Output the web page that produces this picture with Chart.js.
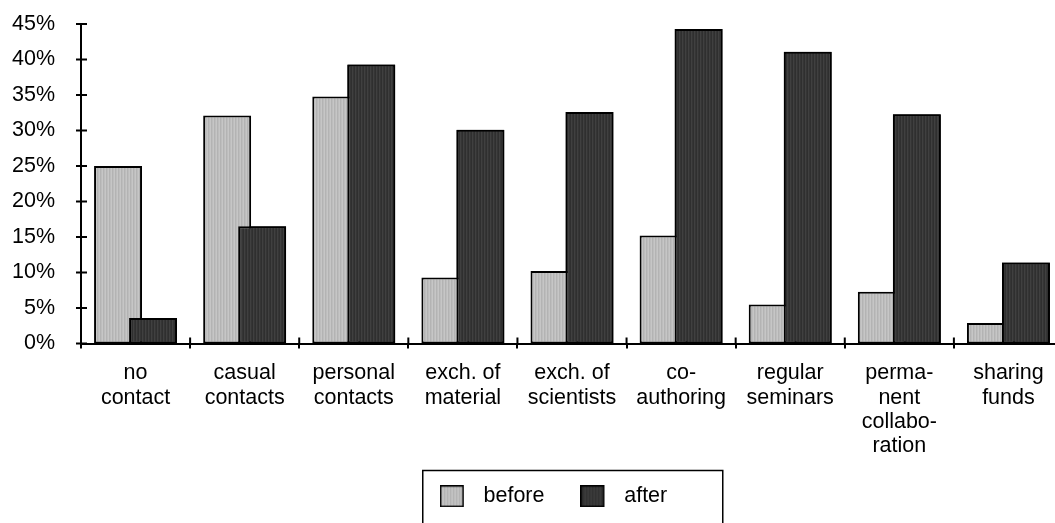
<!DOCTYPE html>
<html>
<head>
<meta charset="utf-8">
<script src="https://cdn.jsdelivr.net/npm/chart.js@4/dist/chart.umd.min.js"></script>
<style>
  html, body { margin: 0; padding: 0; background: #fff; overflow: hidden; }
  /* plot runs slightly past the right edge of the window, like the original */
  #wrap { width: 1063px; height: 523px; }
</style>
</head>
<body>
<div id="wrap"><canvas id="chart"></canvas></div>
<script>
const categories = [
  ['no', 'contact'],
  ['casual', 'contacts'],
  ['personal', 'contacts'],
  ['exch. of', 'material'],
  ['exch. of', 'scientists'],
  ['co-', 'authoring'],
  ['regular', 'seminars'],
  ['perma-', 'nent', 'collabo-', 'ration'],
  ['sharing', 'funds']
];
const seriesNames = ['before', 'after'];
const beforeValues = [25.0, 32.1, 34.8, 9.3, 10.2, 15.2, 5.5, 7.3, 2.9];
const afterValues = [3.6, 16.5, 39.3, 30.1, 32.6, 44.3, 41.1, 32.3, 11.4];
const yTicks = [0, 5, 10, 15, 20, 25, 30, 35, 40, 45];

const FONT = "'Liberation Sans', Arial, sans-serif";

// striped fills like the old excel pattern
function makePattern(cols) {
    let c = document.createElement('canvas');
    c.width = cols.length;
    c.height = 2;
    let g = c.getContext('2d');
    cols.forEach((col, i) => {
        g.fillStyle = col;
        g.fillRect(i, 0, 1, 2);
    });
    return g.createPattern(c, 'repeat');
}
let lightFill = makePattern(['#c6c6c6', '#b3b3b3', '#bdbdbd']);
let darkFill = makePattern(['#2f2f2f', '#404040', '#353535']);

function makeSwatch(fill) {
    let c = document.createElement('canvas');
    c.width = 33;
    c.height = 22;
    let g = c.getContext('2d');
    g.fillStyle = fill;
    g.fillRect(0, 0, 24, 22);
    g.strokeStyle = '#000';
    g.lineWidth = 1.5;
    g.strokeRect(0.75, 0.75, 22.5, 20.5);
    return c;
}
let swatches = [makeSwatch(lightFill), makeSwatch(darkFill)];

const legendPad = 36;

const excelBits = {
    id: 'excelBits',
    afterLayout(chart) {
        // don't let the axes clip their own labels
        chart.scales.y.left = 0;
        chart.scales.x.bottom = chart.height;
    },
    afterDatasetsDraw(chart) {
        // "after" bars sit on top of the "before" bars
        chart.getDatasetMeta(1).controller.draw();
    },
    afterDraw(chart) {
        let ctx = chart.ctx;
        let x = chart.scales.x, y = chart.scales.y;
        let area = chart.chartArea;
        ctx.save();
        ctx.strokeStyle = '#000';
        ctx.lineWidth = 2;
        ctx.beginPath();
        y.ticks.forEach(t => {
            let py = y.getPixelForValue(t.value);
            ctx.moveTo(area.left - 5, py);
            ctx.lineTo(area.left + 6, py);
        });
        let step = x.width / categories.length;
        for (let i = 1; i <= categories.length; i++) {
            let px = x.getPixelForValue(i) - step / 2;
            ctx.moveTo(px, area.bottom);
            ctx.lineTo(px, area.bottom - 6);
        }
        ctx.stroke();

        // box around legend
        let lg = chart.legend;
        let contentLeft = (lg.left + legendPad + lg.right - lg.lineWidths[0]) / 2;
        ctx.lineWidth = 1.5;
        ctx.strokeRect(contentLeft - 17, lg.top + 21, 300, 80);
        ctx.restore();
    }
};

let ctx = document.getElementById('chart').getContext('2d');
new Chart(ctx, {
    type: 'bar',
    data: {
        labels: categories,
        datasets: [
            {
                label: seriesNames[0],
                data: beforeValues,
                backgroundColor: lightFill,
                borderColor: '#000',
                borderWidth: 2,
                borderSkipped: false
            },
            {
                label: seriesNames[1],
                data: afterValues,
                backgroundColor: darkFill,
                borderColor: '#000',
                borderWidth: 2,
                borderSkipped: false
            }
        ]
    },
    options: {
        responsive: true,
        maintainAspectRatio: false,
        animation: false,
        datasets: {
            bar: {
                categoryPercentage: 0.642,
                barPercentage: 1.37
            }
        },
        layout: {
            padding: { top: 24, left: 44, right: 0, bottom: 6 }
        },
        scales: {
            x: {
                offset: true,
                border: { color: '#000', width: 2 },
                grid: {
                    offset: true,
                    drawOnChartArea: false,
                    tickLength: 5,
                    color: '#000',
                    lineWidth: 2
                },
                ticks: {
                    maxRotation: 0,
                    autoSkip: false,
                    padding: 13,
                    color: '#000',
                    font: { family: FONT, size: 21.5, lineHeight: 1.12 }
                },
                afterFit(scale) { scale.height = 106; }
            },
            y: {
                min: 0,
                max: 45,
                afterBuildTicks(scale) {
                    scale.ticks = yTicks.map(v => ({ value: v }));
                },
                border: { color: '#000', width: 2 },
                // tick marks are drawn by the plugin, tickLength only spaces the labels
                grid: {
                    display: false,
                    drawTicks: true,
                    tickLength: 26
                },
                ticks: {
                    padding: 0,
                    color: '#000',
                    font: { family: FONT, size: 21.5 },
                    callback: v => v + '%'
                },
                afterFit(scale) { scale.width = 37; }
            }
        },
        plugins: {
            tooltip: { enabled: false },
            legend: {
                position: 'bottom',
                labels: {
                    usePointStyle: true,
                    pointStyleWidth: 33,
                    boxHeight: 22,
                    padding: legendPad,
                    color: '#000',
                    font: { family: FONT, size: 21.5 },
                    generateLabels: chart => chart.data.datasets.map((ds, i) => ({
                        text: ds.label,
                        pointStyle: swatches[i],
                        datasetIndex: i,
                        hidden: false,
                        lineWidth: 0,
                        fillStyle: 'transparent',
                        strokeStyle: 'transparent'
                    }))
                }
            }
        }
    },
    plugins: [excelBits]
});
</script>
</body>
</html>
